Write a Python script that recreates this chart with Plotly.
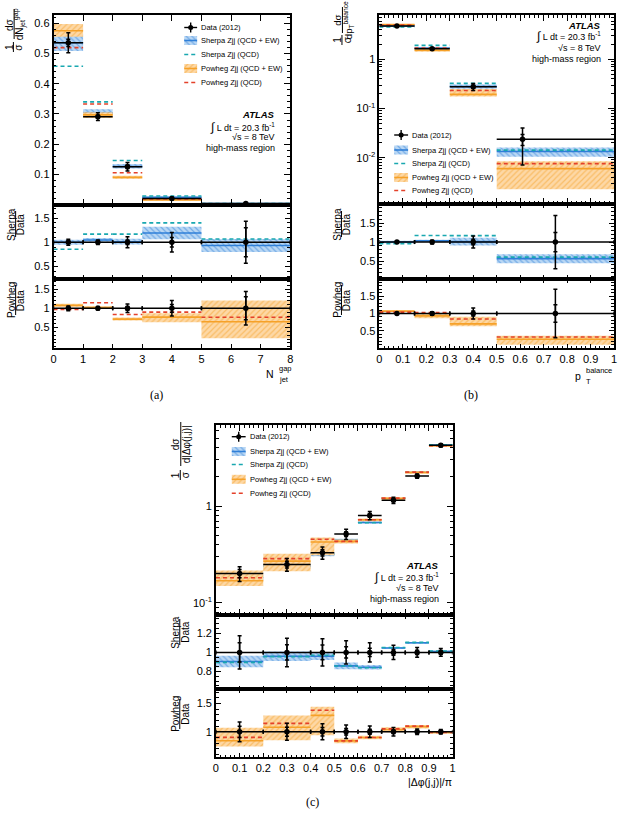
import plotly.graph_objects as go

W, H = 624, 824
SANS = "Liberation Sans, Arial, Helvetica, sans-serif"
SERIF = "Liberation Serif, DejaVu Serif, serif"

BLUE = "#2f7fd8"
BLUE_BG = "#b9d7f4"
TEAL = "#19a8b0"
ORANGE = "#f6a128"
ORANGE_BG = "#fdd8a6"
RED = "#e4412a"

LEGEND_LABELS = ["Data (2012)", "Sherpa Zjj (QCD + EW)", "Sherpa Zjj (QCD)",
                 "Powheg Zjj (QCD + EW)", "Powheg Zjj (QCD)"]

# ---------------- (a) N_jet^gap ----------------
A_EDGES = [0, 1, 2, 3, 5, 8]
A_X = [0.5, 1.5, 2.5, 4.0, 6.5]
A_DATA = [0.536, 0.291, 0.125, 0.020, 0.0030]
A_ERR = [0.033, 0.013, 0.014, 0.004, 0.0013]
A_STAT = [0.012, 0.005, 0.006, 0.002, 0.0009]
A_SHERPA = [0.536, 0.304, 0.126, 0.0238, 0.0028]
A_SHERPA_LO = [0.509, 0.294, 0.119, 0.0212, 0.0024]
A_SHERPA_HI = [0.563, 0.316, 0.134, 0.0264, 0.0032]
A_SHERPA_QCD = [0.458, 0.340, 0.146, 0.0280, 0.0032]
A_POWHEG = [0.576, 0.297, 0.090, 0.0154, 0.00195]
A_POWHEG_LO = [0.556, 0.287, 0.0855, 0.0128, 0.00066]
A_POWHEG_HI = [0.598, 0.306, 0.095, 0.0174, 0.0036]
A_POWHEG_QCD = [0.520, 0.333, 0.105, 0.0180, 0.0023]
A_XTICKS = [0, 1, 2, 3, 4, 5, 6, 7, 8]
A_YTICKS = [0.1, 0.2, 0.3, 0.4, 0.5, 0.6]

# ---------------- (b) pT balance ----------------
B_EDGES = [0, 0.15, 0.3, 0.5, 1.0]
B_X = [0.075, 0.225, 0.4, 0.61]
B_DATA = [4.75, 1.64, 0.277, 0.0237]
B_ERR = [0.14, 0.08, 0.044, 0.0166]
B_STAT = [0.05, 0.03, 0.02, 0.006]
B_SHERPA = [4.75, 1.69, 0.280, 0.0134]
B_SHERPA_LO = [4.60, 1.64, 0.252, 0.0105]
B_SHERPA_HI = [4.90, 1.74, 0.308, 0.0161]
B_SHERPA_QCD = [4.56, 1.92, 0.324, 0.0143]
B_POWHEG = [5.08, 1.525, 0.194, 0.0060]
B_POWHEG_LO = [4.98, 1.42, 0.175, 0.0023]
B_POWHEG_HI = [5.18, 1.63, 0.250, 0.0085]
B_POWHEG_QCD = [4.94, 1.69, 0.233, 0.0076]

# ---------------- (c) |dphi(j,j)|/pi ----------------
C_EDGES = [0, 0.2, 0.4, 0.5, 0.6, 0.7, 0.8, 0.9, 1.0]
C_X = [0.1, 0.3, 0.45, 0.55, 0.65, 0.75, 0.85, 0.95]
C_DATA = [0.201, 0.249, 0.329, 0.513, 0.80, 1.15, 2.04, 4.24]
C_ERR = [0.035, 0.037, 0.047, 0.062, 0.080, 0.086, 0.102, 0.17]
C_STAT = [0.02, 0.02, 0.025, 0.03, 0.035, 0.035, 0.045, 0.08]
C_SHERPA = [0.182, 0.239, 0.316, 0.441, 0.676, 1.203, 2.244, 4.28]
C_SHERPA_LO = [0.170, 0.2265, 0.303, 0.423, 0.658, 1.19, 2.22, 4.24]
C_SHERPA_HI = [0.194, 0.2515, 0.329, 0.459, 0.694, 1.215, 2.26, 4.32]
C_SHERPA_QCD = [0.180, 0.238, 0.319, 0.440, 0.672, 1.208, 2.254, 4.30]
C_POWHEG = [0.169, 0.269, 0.424, 0.431, 0.720, 1.196, 2.224, 4.198]
C_POWHEG_LO = [0.149, 0.212, 0.309, 0.410, 0.696, 1.139, 2.162, 4.113]
C_POWHEG_HI = [0.215, 0.321, 0.474, 0.451, 0.744, 1.242, 2.285, 4.282]
C_POWHEG_QCD = [0.181, 0.286, 0.454, 0.431, 0.720, 1.208, 2.244, 4.198]

FRAC_TICKS = [0, 0.1, 0.2, 0.3, 0.4, 0.5, 0.6, 0.7, 0.8, 0.9, 1.0]
FRAC_TEXT = ["0", "0.1", "0.2", "0.3", "0.4", "0.5", "0.6", "0.7", "0.8", "0.9", "1"]

fig = go.Figure()
layout = dict(width=W, height=H, margin=dict(l=0, r=0, t=0, b=0),
              paper_bgcolor="white", plot_bgcolor="rgba(0,0,0,0)", showlegend=False)


def aid(i):
    return "" if i == 1 else str(i)


def seg(edges, vals):
    xs, ys = [], []
    for i, v in enumerate(vals):
        xs += [edges[i], edges[i + 1], None]
        ys += [v, v, None]
    return xs, ys


def rect(edges, lo, hi):
    xs, ys = [], []
    for i in range(len(lo)):
        x0, x1 = edges[i], edges[i + 1]
        xs += [x0, x1, x1, x0, x0, None]
        ys += [lo[i], lo[i], hi[i], hi[i], lo[i], None]
    return xs, ys


def band(xs, ys, fg, bg, shape, xa, ya):
    return go.Scatter(x=xs, y=ys, mode="lines", fill="toself", line=dict(width=0, color=fg),
                      fillcolor=bg,
                      fillpattern=dict(shape=shape, fgcolor=fg, bgcolor=bg, size=4, solidity=0.3),
                      xaxis=xa, yaxis=ya, hoverinfo="skip")


def line(xs, ys, color, dash, xa, ya, width=1.6):
    return go.Scatter(x=xs, y=ys, mode="lines", line=dict(color=color, width=width, dash=dash),
                      xaxis=xa, yaxis=ya, hoverinfo="skip")


DASH = "4px,3px"


def add_panel(n0, edges, xm, data, err, stat, sh, shlo, shhi, shq, pw, pwlo, pwhi, pwq):
    xa = ["x" + aid(n0 + k) for k in range(3)]
    ya = ["y" + aid(n0 + k) for k in range(3)]
    n = len(data)
    centers = [(edges[i] + edges[i + 1]) / 2 for i in range(n)]
    ones = [1.0] * n

    def r(arr, norm):
        return [a / b for a, b in zip(arr, norm)]

    def sherpa(xa_, ya_, norm):
        fig.add_trace(band(*rect(edges, r(shlo, norm), r(shhi, norm)), BLUE, BLUE_BG, "\\", xa_, ya_))
        fig.add_trace(line(*seg(edges, r(sh, norm)), BLUE, "solid", xa_, ya_))
        fig.add_trace(line(*seg(edges, r(shq, norm)), TEAL, DASH, xa_, ya_))

    def powheg(xa_, ya_, norm):
        fig.add_trace(band(*rect(edges, r(pwlo, norm), r(pwhi, norm)), ORANGE, ORANGE_BG, "/", xa_, ya_))
        fig.add_trace(line(*seg(edges, r(pw, norm)), ORANGE, "solid", xa_, ya_))
        fig.add_trace(line(*seg(edges, r(pwq, norm)), RED, DASH, xa_, ya_))

    def data_pts(xa_, ya_, xs, ys, e, s, caps):
        xminus = [x - edges[i] for i, x in enumerate(xs)]
        xplus = [edges[i + 1] - x for i, x in enumerate(xs)]
        fig.add_trace(go.Scatter(x=xs, y=ys, mode="markers", marker=dict(color="black", size=5.5),
                                 error_y=dict(type="data", array=e, color="black", thickness=1.5, width=2),
                                 error_x=dict(type="data", array=xplus, arrayminus=xminus, color="black",
                                              thickness=1.5, width=caps),
                                 xaxis=xa_, yaxis=ya_, hoverinfo="skip"))
        fig.add_trace(go.Scatter(x=xs, y=ys, mode="markers", marker=dict(color="black", size=1, opacity=0),
                                 error_y=dict(type="data", array=s, color="black", thickness=1.5, width=2),
                                 xaxis=xa_, yaxis=ya_, hoverinfo="skip"))

    # main
    sherpa(xa[0], ya[0], ones)
    powheg(xa[0], ya[0], ones)
    data_pts(xa[0], ya[0], xm, data, err, stat, 0)
    # ratios
    rel_e = r(err, data)
    rel_s = r(stat, data)
    sherpa(xa[1], ya[1], data)
    data_pts(xa[1], ya[1], centers, ones, rel_e, rel_s, 2)
    powheg(xa[2], ya[2], data)
    data_pts(xa[2], ya[2], centers, ones, rel_e, rel_s, 2)


add_panel(1, A_EDGES, A_X, A_DATA, A_ERR, A_STAT, A_SHERPA, A_SHERPA_LO, A_SHERPA_HI, A_SHERPA_QCD,
          A_POWHEG, A_POWHEG_LO, A_POWHEG_HI, A_POWHEG_QCD)
add_panel(4, B_EDGES, B_X, B_DATA, B_ERR, B_STAT, B_SHERPA, B_SHERPA_LO, B_SHERPA_HI, B_SHERPA_QCD,
          B_POWHEG, B_POWHEG_LO, B_POWHEG_HI, B_POWHEG_QCD)
add_panel(7, C_EDGES, C_X, C_DATA, C_ERR, C_STAT, C_SHERPA, C_SHERPA_LO, C_SHERPA_HI, C_SHERPA_QCD,
          C_POWHEG, C_POWHEG_LO, C_POWHEG_HI, C_POWHEG_QCD)

# ---------------- axes ----------------
COMMON = dict(showline=True, linecolor="black", linewidth=1.5, mirror="ticks", ticks="inside",
              tickwidth=1.2, tickcolor="black", showgrid=False, zeroline=False,
              tickfont=dict(family=SANS, size=11, color="black"))


def minor_vals(lo, hi, step):
    out = []
    k = 0
    while lo + k * step <= hi + 1e-9:
        out.append(round(lo + k * step, 6))
        k += 1
    return out


def log_minor(d0, d1):
    return [m * 10 ** d for d in range(d0, d1 + 1) for m in range(2, 10)]


def set_x(i, px, rng, tv, tt, minor, labels, ylen):
    d = dict(COMMON, domain=[px[0] / W, px[1] / W], range=rng, anchor="y" + aid(i),
             tickmode="array", tickvals=tv, ticktext=tt, showticklabels=labels, ticklen=ylen)
    if minor:
        d["minor"] = dict(ticks="inside", ticklen=max(2, ylen / 2), tickcolor="black", tickwidth=1,
                          tickmode="array", tickvals=minor)
    layout["xaxis" + aid(i)] = d


def set_y(i, py, rng, tv, tt, minor, typ="linear", tl=6):
    d = dict(COMMON, domain=[1 - py[1] / H, 1 - py[0] / H], range=rng, anchor="x" + aid(i),
             type=typ, tickmode="array", tickvals=tv, ticktext=tt, ticklen=tl)
    if minor:
        d["minor"] = dict(ticks="inside", ticklen=3, tickcolor="black", tickwidth=1,
                          tickmode="array", tickvals=minor)
    layout["yaxis" + aid(i)] = d


PA = dict(x=(51, 290), main=(15, 204.5), sh=(204.5, 279), pw=(279, 348))
PB = dict(x=(380, 617), main=(15, 204), sh=(204, 279), pw=(279, 348))
PC = dict(x=(215, 454), main=(425, 615), sh=(615, 689.3), pw=(689.3, 756.7))

atx = [str(v) for v in A_XTICKS]
for k, key in enumerate(["main", "sh", "pw"]):
    tl = 6 if key == "main" else 4
    set_x(1 + k, PA["x"], [0, 8], A_XTICKS, atx, None, key == "pw", tl)
    set_x(4 + k, PB["x"], [0, 1], FRAC_TICKS, FRAC_TEXT, minor_vals(0, 1, 0.02), key == "pw", tl)
    set_x(7 + k, PC["x"], [0, 1], FRAC_TICKS, FRAC_TEXT, minor_vals(0, 1, 0.02), key == "pw", tl)

set_y(1, PA["main"], [0, 0.628], A_YTICKS, [str(v) for v in A_YTICKS], minor_vals(0, 0.62, 0.02))
set_y(2, PA["sh"], [0.24, 1.78], [0.5, 1, 1.5], ["0.5", "1", "1.5"], minor_vals(0.3, 1.7, 0.1), tl=5)
set_y(3, PA["pw"], [-0.03, 1.76], [0.5, 1, 1.5], ["0.5", "1", "1.5"], minor_vals(0.0, 1.7, 0.1), tl=5)

set_y(4, PB["main"], [-2.94, 0.90], [0.01, 0.1, 1], ["10<sup>-2</sup>", "10<sup>-1</sup>", "1"],
      log_minor(-3, 0), typ="log")
set_y(5, PB["sh"], [0.03, 2.0], [0.5, 1, 1.5], ["0.5", "1", "1.5"], minor_vals(0.1, 1.9, 0.1), tl=5)
set_y(6, PB["pw"], [0.0, 2.0], [0.5, 1, 1.5], ["0.5", "1", "1.5"], minor_vals(0.1, 1.9, 0.1), tl=5)

set_y(7, PC["main"], [-1.127, 0.838], [0.1, 1], ["10<sup>-1</sup>", "1"], log_minor(-2, 0), typ="log")
set_y(8, PC["sh"], [0.615, 1.39], [0.8, 1, 1.2], ["0.8", "1", "1.2"], minor_vals(0.65, 1.35, 0.05), tl=5)
set_y(9, PC["pw"], [0.56, 1.75], [1, 1.5], ["1", "1.5"], minor_vals(0.6, 1.7, 0.1), tl=5)

# overlay pixel axes for legends and texts
layout["xaxis10"] = dict(domain=[0, 1], range=[0, W], visible=False, anchor="y10", fixedrange=True)
layout["yaxis10"] = dict(domain=[0, 1], range=[H, 0], visible=False, anchor="x10", fixedrange=True)

ANN = []
SHAPES = []


def txt(x, y, s, size=9, xanchor="center", yanchor="middle", angle=0, family=SANS):
    ANN.append(dict(x=x, y=y, xref="x10", yref="y10", text=s, showarrow=False, xanchor=xanchor,
                    yanchor=yanchor, textangle=angle, font=dict(family=family, size=size, color="black")))


def vbar(x, y0, y1):
    SHAPES.append(dict(type="line", xref="x10", yref="y10", x0=x, x1=x, y0=y0, y1=y1,
                       line=dict(color="black", width=1)))


def vfrac(xn, xd, y, num, den, size, half, yn=None, yd=None):
    txt(xn, y if yn is None else yn, num, size, angle=-90)
    txt(xd, y if yd is None else yd, den, size, angle=-90)
    vbar((xn + xd) / 2, y - half, y + half)


def legend(x0, x1, ys, tx):
    xm = (x0 + x1) / 2
    fig.add_trace(go.Scatter(x=[xm], y=[ys[0]], mode="markers", marker=dict(color="black", size=5),
                             error_x=dict(type="constant", value=(x1 - x0) / 2, color="black", thickness=1.4, width=0),
                             error_y=dict(type="constant", value=5, color="black", thickness=1.4, width=0),
                             xaxis="x10", yaxis="y10", hoverinfo="skip"))
    for yy, fg, bg, shp in [(ys[1], BLUE, BLUE_BG, "\\"), (ys[3], ORANGE, ORANGE_BG, "/")]:
        fig.add_trace(band([x0, x1, x1, x0, x0], [yy - 4.5, yy - 4.5, yy + 4.5, yy + 4.5, yy - 4.5],
                           fg, bg, shp, "x10", "y10"))
        fig.add_trace(line([x0, x1], [yy, yy], fg, "solid", "x10", "y10"))
    fig.add_trace(line([x0, x1], [ys[2], ys[2]], TEAL, DASH, "x10", "y10"))
    fig.add_trace(line([x0, x1], [ys[4], ys[4]], RED, DASH, "x10", "y10"))
    for yy, s in zip(ys, LEGEND_LABELS):
        txt(tx, yy, s, 7.5, xanchor="left")


def atlas(xr, ys):
    txt(xr, ys[0], "<b><i>ATLAS</i></b>", 9.5, xanchor="right")
    txt(xr, ys[1], "<span style='font-size:12px'>∫</span> L dt = 20.3 fb<sup>-1</sup>", 9, xanchor="right")
    txt(xr, ys[2], "√s = 8 TeV", 9, xanchor="right")
    txt(xr, ys[3], "high-mass region", 9, xanchor="right")


legend(183, 196, [27.5, 40.5, 54.5, 68.5, 82.5], 198)
legend(395, 409, [135, 150, 163.5, 177.5, 190.5], 411)
legend(231, 245, [436.7, 451.5, 464.5, 479.3, 493.3], 247)

atlas(277, [114, 126.5, 137, 148])
atlas(606, [25, 36, 47.5, 58.5])
atlas(442, [565, 576.5, 588.3, 599.3])

# y-axis titles
vfrac(6, 15, 47, "1", "σ", 10, 5)
vfrac(6, 16.5, 24, "dσ", "dN<sub>jet</sub><sup>gap</sup>", 10, 15)
vfrac(337, 347.5, 40, "1", "σ", 10, 5)
vfrac(337, 348.5, 20, "dσ", "dp<sub>T</sub><sup>balance</sup>", 9.5, 13)
vfrac(174, 184, 475, "1", "σ", 10, 5)
vfrac(174, 185, 444, "dσ", "d|Δφ(j,j)|", 10, 22)

for (xn, xd, y, numtxt, half) in [(8, 17.5, 224, "Sherpa", 13), (8, 17.5, 300, "Powheg", 15),
                                  (337, 346.5, 224, "Sherpa", 13), (337, 346.5, 300, "Powheg", 15),
                                  (173.5, 183.5, 632, "Sherpa", 13), (173.5, 183.5, 714, "Powheg", 15)]:
    vfrac(xn, xd, y, numtxt, "Data", 10, half)

# x-axis titles
txt(276, 374, "N", 10.5, xanchor="right")
txt(277, 368, "gap", 7.5, xanchor="left")
txt(277, 379, "jet", 7.5, xanchor="left")
txt(586, 376, "p", 10.5, xanchor="right")
txt(587, 370, "balance", 7.5, xanchor="left")
txt(587, 381, "T", 7.5, xanchor="left")
txt(455, 782, "|Δφ(j,j)|/π", 10.5, xanchor="right")

# panel labels
txt(155, 395, "(a)", 12, family=SERIF)
txt(473, 395, "(b)", 12, family=SERIF)
txt(312, 802, "(c)", 12, family=SERIF)

layout["annotations"] = ANN
layout["shapes"] = SHAPES
fig.update_layout(**layout)
fig.write_html("out.html")
